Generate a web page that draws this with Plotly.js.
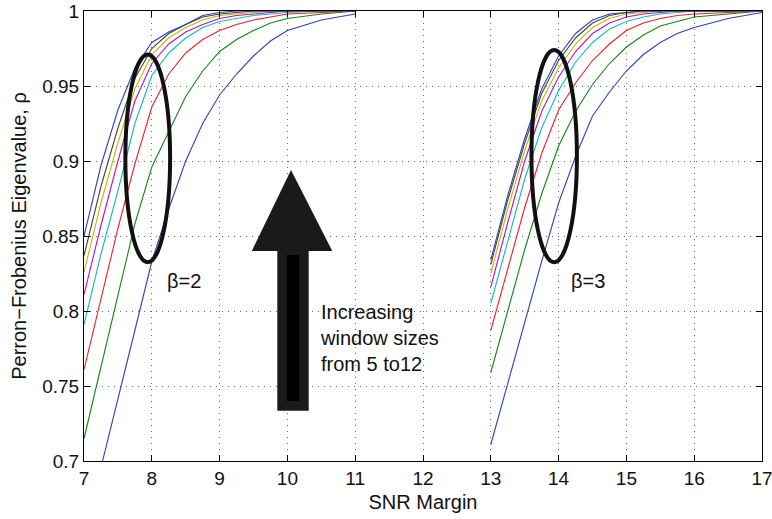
<!DOCTYPE html>
<html>
<head>
<meta charset="utf-8">
<script src="https://cdn.plot.ly/plotly-3.0.1.min.js"></script>
<style>html,body{margin:0;padding:0;background:#fff;}#chart{width:772px;height:519px;}</style>
</head>
<body>
<div id="chart"></div>
<script>
// SNR margin grid for each beta group
const snrBeta2 = [7, 7.25, 7.5, 7.75, 8, 8.25, 8.5, 8.75, 9, 9.25, 9.5, 9.75, 10, 10.5, 11];
const snrBeta3 = [13, 13.25, 13.5, 13.75, 14, 14.25, 14.5, 14.75, 15, 15.25, 15.5, 15.75, 16, 16.5, 17];
const windowSizes = [5, 6, 7, 8, 9, 10, 11, 12];

// Perron-Frobenius eigenvalue, beta = 2 (one row per window size 5..12)
const rhoBeta2 = [
  [0.650, 0.695, 0.741, 0.787, 0.833, 0.868, 0.900, 0.925, 0.944, 0.958, 0.970, 0.980, 0.987, 0.994, 0.998],
  [0.715, 0.763, 0.812, 0.858, 0.896, 0.920, 0.943, 0.960, 0.973, 0.981, 0.987, 0.992, 0.995, 0.998, 1.000],
  [0.761, 0.809, 0.855, 0.898, 0.936, 0.958, 0.972, 0.981, 0.987, 0.991, 0.994, 0.996, 0.998, 0.999, 1.000],
  [0.791, 0.838, 0.880, 0.925, 0.957, 0.972, 0.982, 0.989, 0.993, 0.995, 0.997, 0.998, 0.999, 1.000, 1.000],
  [0.811, 0.857, 0.900, 0.940, 0.965, 0.978, 0.986, 0.991, 0.995, 0.997, 0.998, 0.999, 1.000, 1.000, 1.000],
  [0.826, 0.872, 0.912, 0.948, 0.971, 0.982, 0.989, 0.994, 0.997, 0.998, 0.999, 1.000, 1.000, 1.000, 1.000],
  [0.837, 0.883, 0.922, 0.955, 0.975, 0.985, 0.991, 0.996, 0.998, 0.999, 1.000, 1.000, 1.000, 1.000, 1.000],
  [0.850, 0.897, 0.934, 0.962, 0.979, 0.986, 0.991, 0.997, 0.999, 1.000, 1.000, 1.000, 1.000, 1.000, 1.000]
];

// Perron-Frobenius eigenvalue, beta = 3
const rhoBeta3 = [
  [0.711, 0.752, 0.792, 0.833, 0.872, 0.903, 0.930, 0.946, 0.960, 0.971, 0.979, 0.985, 0.989, 0.995, 0.999],
  [0.759, 0.800, 0.841, 0.878, 0.910, 0.933, 0.951, 0.965, 0.976, 0.984, 0.990, 0.993, 0.996, 0.998, 1.000],
  [0.787, 0.828, 0.869, 0.905, 0.934, 0.952, 0.967, 0.978, 0.987, 0.992, 0.995, 0.997, 0.998, 0.999, 1.000],
  [0.805, 0.847, 0.888, 0.922, 0.947, 0.966, 0.979, 0.988, 0.993, 0.996, 0.998, 0.999, 1.000, 1.000, 1.000],
  [0.816, 0.859, 0.900, 0.933, 0.956, 0.973, 0.985, 0.992, 0.996, 0.998, 0.999, 1.000, 1.000, 1.000, 1.000],
  [0.825, 0.868, 0.907, 0.940, 0.962, 0.978, 0.989, 0.995, 0.998, 0.999, 1.000, 1.000, 1.000, 1.000, 1.000],
  [0.831, 0.874, 0.912, 0.945, 0.967, 0.982, 0.992, 0.997, 0.999, 1.000, 1.000, 1.000, 1.000, 1.000, 1.000],
  [0.834, 0.877, 0.915, 0.948, 0.970, 0.985, 0.994, 0.998, 0.999, 1.000, 1.000, 1.000, 1.000, 1.000, 1.000]
];

const xTicks = [7, 8, 9, 10, 11, 12, 13, 14, 15, 16, 17];
const yTicks = [0.7, 0.75, 0.8, 0.85, 0.9, 0.95, 1];
const yTickLabels = ['0.7', '0.75', '0.8', '0.85', '0.9', '0.95', '1'];

const lineColors = ['#2b45b8', '#118811', '#ee2222', '#11bbbb', '#bb11bb', '#bbbb00', '#444444', '#2b45b8'];
const FONT = '"Liberation Sans", Arial, Helvetica, sans-serif';

const traces = [];
windowSizes.forEach((w, i) => {
  traces.push({x: snrBeta2, y: rhoBeta2[i], type: 'scatter', mode: 'lines', name: 'w=' + w + ', β=2',
    line: {color: lineColors[i], width: 1.1}, showlegend: false, hoverinfo: 'x+y'});
  traces.push({x: snrBeta3, y: rhoBeta3[i], type: 'scatter', mode: 'lines', name: 'w=' + w + ', β=3',
    line: {color: lineColors[i], width: 1.1}, showlegend: false, hoverinfo: 'x+y'});
});

const axisCommon = {
  showline: true, linecolor: '#000', linewidth: 1, mirror: 'ticks',
  ticks: 'inside', ticklen: 6, tickcolor: '#000', tickwidth: 1,
  showgrid: true, gridcolor: '#666', griddash: '1px,5px', gridwidth: 1,
  zeroline: false, tickfont: {family: FONT, size: 19, color: '#111'},
  ticklabeloverflow: 'allow'
};

const layout = {
  width: 772, height: 519,
  margin: {l: 84, r: 10, t: 11, b: 58},
  paper_bgcolor: '#fff', plot_bgcolor: '#fff',
  showlegend: false,
  xaxis: Object.assign({}, axisCommon, {
    range: [7, 17], tickvals: xTicks, ticktext: xTicks.map(String),
    title: {text: 'SNR Margin', font: {family: FONT, size: 20, color: '#111'}, standoff: 7}
  }),
  yaxis: Object.assign({}, axisCommon, {
    range: [0.7, 1], tickvals: yTicks, ticktext: yTickLabels,
    title: {text: 'Perron\u2212Frobenius Eigenvalue, \u03c1', font: {family: FONT, size: 20, color: '#111'}, standoff: 10}
  }),
  shapes: [
    {type: 'circle', xref: 'x', yref: 'y', x0: 7.61, x1: 8.27, y0: 0.8325, y1: 0.971, line: {color: '#111', width: 4}},
    {type: 'circle', xref: 'x', yref: 'y', x0: 13.60, x1: 14.27, y0: 0.8325, y1: 0.974, line: {color: '#111', width: 4}},
    {type: 'rect', xref: 'x', yref: 'y', x0: 9.851, x1: 10.314, y0: 0.7335, y1: 0.8405, fillcolor: '#1a1a1a', line: {width: 0}},
    {type: 'rect', xref: 'x', yref: 'y', x0: 9.990, x1: 10.176, y0: 0.740, y1: 0.8373, fillcolor: '#000', line: {width: 0}},
    {type: 'path', xref: 'x', yref: 'y', path: 'M 9.475 0.840 L 10.662 0.840 L 10.053 0.894 Z', fillcolor: '#1a1a1a', line: {width: 0}}
  ],
  annotations: [
    {x: 8.475, y: 0.820, xref: 'x', yref: 'y', text: '\u03b2=2', showarrow: false, font: {family: FONT, size: 20, color: '#111'}},
    {x: 14.44, y: 0.820, xref: 'x', yref: 'y', text: '\u03b2=3', showarrow: false, font: {family: FONT, size: 20, color: '#111'}},
    {x: 10.45, y: 0.782, xref: 'x', yref: 'y', xanchor: 'left', align: 'left', showarrow: false,
      text: 'Increasing<br>window sizes<br>from 5 to12', font: {family: FONT, size: 20, color: '#111'}}
  ]
};

Plotly.newPlot('chart', traces, layout, {displayModeBar: false, staticPlot: true});
</script>
</body>
</html>
